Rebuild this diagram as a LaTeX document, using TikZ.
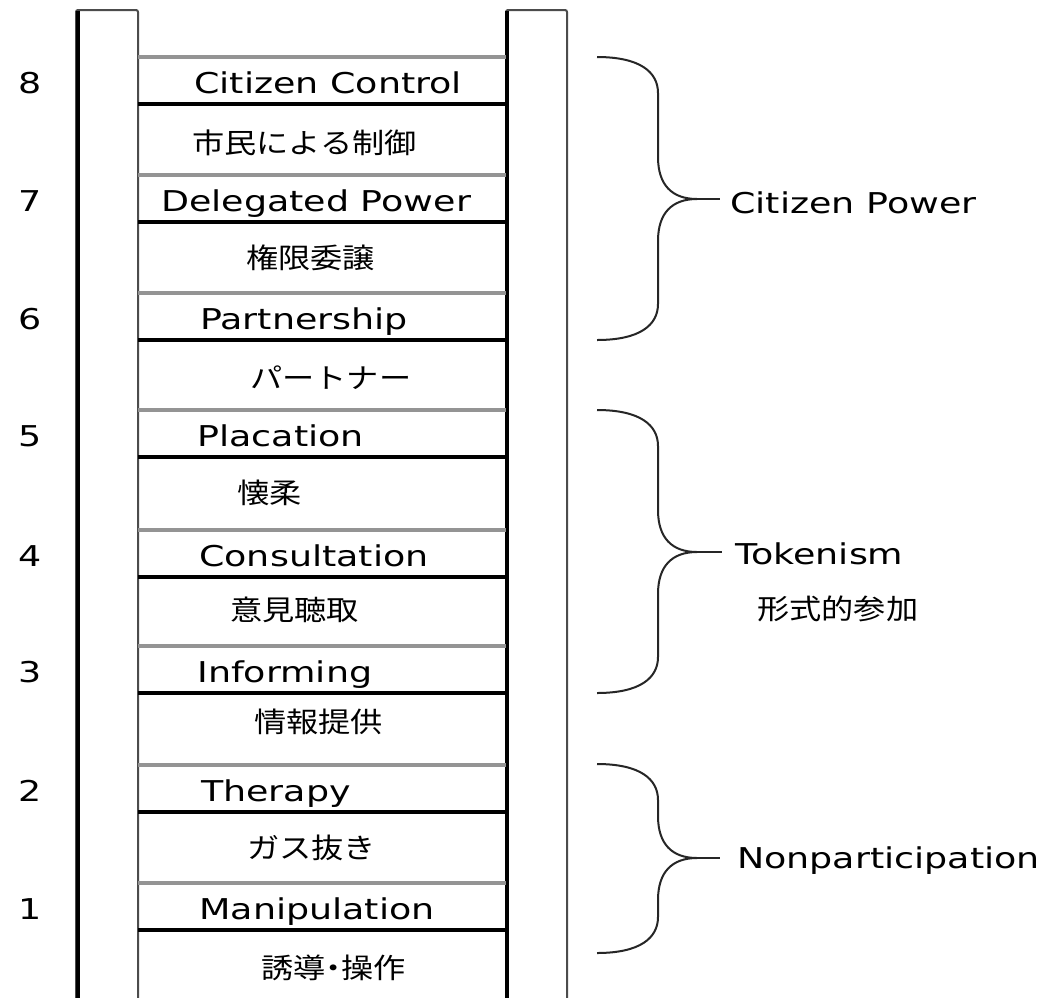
\documentclass[tikz,border=0pt]{standalone}
\usepackage{fontspec}
\setmainfont{DejaVu Sans}[FakeStretch=1.27]
\newfontfamily\cjk{Noto Sans CJK JP}[FakeStretch=1.15]
\begin{document}
\begin{tikzpicture}[x=0.75pt,y=-0.75pt,
  lab/.style={anchor=base west,inner sep=0pt,font=\fontsize{21.5}{24}\selectfont},
  num/.style={anchor=base,inner sep=0pt,font=\fontsize{21.5}{24}\selectfont},
  jp/.style={anchor=west,inner sep=0pt,font=\cjk\fontsize{21}{24}\selectfont},
  graybar/.style={draw=black!42,line width=2.3pt},
  blackbar/.style={draw=black,line width=2.3pt},
  railthick/.style={draw=black,line width=3pt},
  railthin/.style={draw=black!70,line width=1.5pt,rounded corners=1.5pt},
  brace/.style={draw=black!85,line width=1.5pt}]
\useasboundingbox[fill=white] (0,0) rectangle (1056,997);
% rails
\draw[railthin] (138,1000) -- (138,10) -- (76,10) -- (76,1000);
\draw[railthick] (77.5,11) -- (77.5,1000);
\draw[railthin] (567,1000) -- (567,10) -- (506,10) -- (506,1000);
\draw[railthick] (507,11) -- (507,1000);
% rungs
\foreach \g in {57,175,293,410,530,646,765,883}{
  \draw[graybar] (138,\g) -- (506,\g);
  \draw[blackbar] (138,\g+47) -- (506,\g+47);
}
% numbers
\node[num] (n8) at (30,93) {8};
\node[num] (n7) at (30,211) {7};
\node[num] (n6) at (30,329) {6};
\node[num] (n5) at (30,446) {5};
\node[num] (n4) at (30,566) {4};
\node[num] (n3) at (30,682) {3};
\node[num] (n2) at (30,801) {2};
\node[num] (n1) at (30,919) {1};
% English labels
\node[lab] (l8) at (194,93) {Citizen Control};
\node[lab] (l7) at (161,211) {Delegated Power};
\node[lab] (l6) at (200,329) {Partnership};
\node[lab] (l5) at (197,446) {Placation};
\node[lab] (l4) at (199,566) {Consultation};
\node[lab] (l3) at (197,682) {Informing};
\node[lab] (l2) at (201,801) {Therapy};
\node[lab] (l1) at (199,919) {Manipulation};
% Japanese labels
\node[jp] (j8) at (192,143) {市民による制御};
\node[jp] (j7) at (246,258) {権限委譲};
\node[jp] (j6) at (250,378) {パートナー};
\node[jp] (j5) at (237,493) {懐柔};
\node[jp] (j4) at (230,610) {意見聴取};
\node[jp] (j3) at (254,722) {情報提供};
\node[jp] (j2) at (247,848) {ガス抜き};
\node[jp] (j1) at (261,968) {誘導\kern-0.3em・\kern-0.3em操作};
% braces
\draw[brace] (597,57) .. controls (640,57) and (658,72) .. (658,93) -- (658,157)
  .. controls (658,185) and (672,199) .. (697,199)
  .. controls (672,199) and (658,213) .. (658,241) -- (658,304)
  .. controls (658,325) and (640,340) .. (597,340);
\coordinate (t1) at (720,199);
\draw[brace] (697,199) -- (t1);
\draw[brace] (597,410) .. controls (640,410) and (658,425) .. (658,446) -- (658,510)
  .. controls (658,538) and (672,552) .. (697,552)
  .. controls (672,552) and (658,566) .. (658,594) -- (658,657)
  .. controls (658,678) and (640,693) .. (597,693);
\coordinate (t2) at (722,552);
\draw[brace] (697,552) -- (t2);
\draw[brace] (597,764) .. controls (640,764) and (658,779) .. (658,800) -- (658,816)
  .. controls (658,844) and (672,858) .. (697,858)
  .. controls (672,858) and (658,872) .. (658,900) -- (658,917)
  .. controls (658,938) and (640,953) .. (597,953);
\coordinate (t3) at (720,858);
\draw[brace] (697,858) -- (t3);
% group labels
\node[lab] (g1) at (730,213) {Citizen Power};
\node[lab] (g2) at (735,564) {Tokenism};
\node[jp] (g2j) at (757,609) {形式的参加};
\node[lab] (g3) at (737,868) {Nonparticipation};
\end{tikzpicture}
\end{document}
